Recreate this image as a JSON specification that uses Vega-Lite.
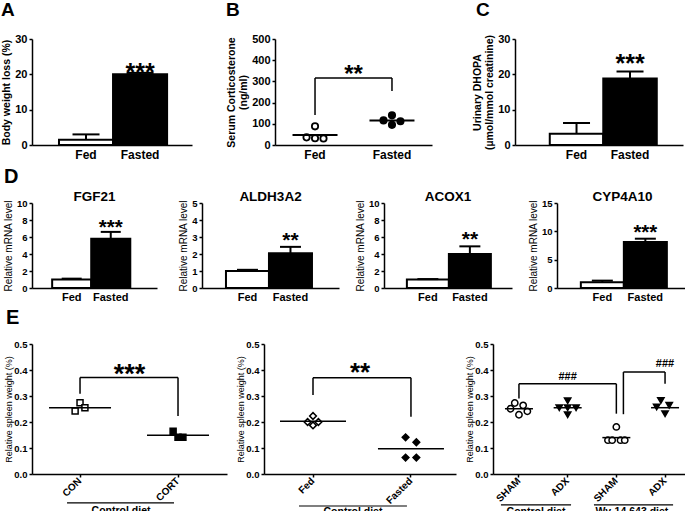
{
 "$schema": "https://vega.github.io/schema/vega-lite/v6.json",
 "background": "white",
 "padding": {"left": 1, "top": 0, "right": 0, "bottom": 0},
 "spacing": 6,
 "vconcat": [
  {
   "bounds": "flush", "spacing": 83,
   "hconcat": [
    {
     "width": 160, "height": 106,
     "title": {"text": "A", "fontSize": 19, "dx": -31, "offset": 13.5},
     "data": {"values": [{"g": "Fed", "m": 1.5, "u": 3.0}, {"g": "Fasted", "m": 20.0, "u": 20.4}]},
     "encoding": {"x": {"field": "g", "type": "nominal", "sort": ["Fed", "Fasted"], "scale": {"domain": ["Fed", "Fasted"], "paddingInner": 0, "paddingOuter": 0.48, "align": 0.52}, "axis": {"title": null, "ticks": false, "labelFontSize": 12, "labelPadding": 4}}},
     "layer": [
      {"mark": {"type": "bar", "stroke": "#000", "strokeWidth": 2, "width": {"band": 1}}, "encoding": {"y": {"field": "m", "type": "quantitative", "scale": {"domain": [0, 30], "nice": false}, "axis": {"values": [0, 10, 20, 30], "tickCount": 20, "format": "d", "labelOverlap": false, "title": "Body weight loss (%)", "titleFontSize": 10.5, "titleFontWeight": "bold", "labelFontSize": 11}}, "fill": {"field": "g", "type": "nominal", "scale": {"domain": ["Fed", "Fasted"], "range": ["#ffffff", "#000000"]}, "legend": null}}},
      {"mark": {"type": "rule", "strokeWidth": 2}, "encoding": {"y": {"field": "m", "type": "quantitative"}, "y2": {"field": "u"}}},
      {"mark": {"type": "tick", "thickness": 2, "size": 27}, "encoding": {"y": {"field": "u", "type": "quantitative"}}},
      {"data": {"values": [{}]}, "mark": {"type": "text", "text": "***", "fontSize": 25, "fontWeight": "bold", "baseline": "alphabetic"}, "encoding": {"x": {"datum": "Fasted"}, "y": {"datum": 18.0}}}
     ]
    },
    {
     "width": 157, "height": 106,
     "title": {"text": "B", "fontSize": 19, "dx": -49, "offset": 13.5},
     "layer": [
      {"data": {"values": [{"g": "Fed", "col": 1, "v": 36}, {"g": "Fed", "col": 2, "v": 88}, {"g": "Fed", "col": 2, "v": 32}, {"g": "Fed", "col": 3, "v": 31}, {"g": "Fasted", "col": 1, "v": 116}, {"g": "Fasted", "col": 2, "v": 140}, {"g": "Fasted", "col": 2, "v": 95}, {"g": "Fasted", "col": 3, "v": 112}]},
       "encoding": {
        "y": {"field": "v", "type": "quantitative", "scale": {"domain": [0, 500], "nice": false}, "axis": {"values": [0, 100, 200, 300, 400, 500], "tickCount": 20, "format": "d", "labelOverlap": false, "title": ["Serum Corticosterone", "(ng/ml)"], "titleFontSize": 10.5, "titleFontWeight": "bold", "titleLineHeight": 12, "labelFontSize": 11}},
        "fill": {"field": "g", "type": "nominal", "scale": {"domain": ["Fed", "Fasted"], "range": ["#ffffff", "#000000"]}, "legend": null}},
       "layer": [
        {"transform": [{"filter": "datum.col == 1"}], "mark": {"type": "point", "shape": "circle", "size": 40, "filled": true, "stroke": "#000", "strokeWidth": 1.8, "opacity": 1},
         "encoding": {"x": {"field": "g", "type": "nominal", "bandPosition": 0.39, "scale": {"domain": ["Fed", "Fasted"], "paddingInner": 0, "paddingOuter": 0.02}, "axis": {"title": null, "ticks": false, "labelFontSize": 12, "labelPadding": 4}}}},
        {"transform": [{"filter": "datum.col == 2"}], "mark": {"type": "point", "shape": "circle", "size": 40, "filled": true, "stroke": "#000", "strokeWidth": 1.8, "opacity": 1},
         "encoding": {"x": {"field": "g", "type": "nominal", "bandPosition": 0.5}}},
        {"transform": [{"filter": "datum.col == 3"}], "mark": {"type": "point", "shape": "circle", "size": 40, "filled": true, "stroke": "#000", "strokeWidth": 1.8, "opacity": 1},
         "encoding": {"x": {"field": "g", "type": "nominal", "bandPosition": 0.61}}}
       ]},
      {"data": {"values": [{"g": "Fed", "v": 47}, {"g": "Fasted", "v": 116}]}, "mark": {"type": "tick", "thickness": 2, "size": 45}, "encoding": {"x": {"field": "g", "type": "nominal"}, "y": {"field": "v", "type": "quantitative"}}},
      {"data": {"values": [{}]}, "mark": {"type": "rule", "strokeWidth": 1.5}, "encoding": {"x": {"datum": "Fed"}, "y": {"datum": 141}, "y2": {"datum": 316}}},
      {"data": {"values": [{}]}, "mark": {"type": "rule", "strokeWidth": 1.5}, "encoding": {"x": {"datum": "Fed"}, "x2": {"datum": "Fasted"}, "y": {"datum": 316}}},
      {"data": {"values": [{}]}, "mark": {"type": "rule", "strokeWidth": 1.5}, "encoding": {"x": {"datum": "Fasted"}, "y": {"datum": 316}, "y2": {"datum": 255}}},
      {"data": {"values": [{}]}, "mark": {"type": "text", "text": "**", "fontSize": 24, "fontWeight": "bold", "baseline": "alphabetic"}, "encoding": {"y": {"datum": 297}}}
     ]
    },
    {
     "width": 168, "height": 106,
     "title": {"text": "C", "fontSize": 19, "dx": -39, "offset": 13.5},
     "data": {"values": [{"g": "Fed", "m": 3.2, "u": 6.2}, {"g": "Fasted", "m": 18.8, "u": 20.8}]},
     "encoding": {"x": {"field": "g", "type": "nominal", "sort": ["Fed", "Fasted"], "scale": {"domain": ["Fed", "Fasted"], "paddingInner": 0, "paddingOuter": 0.57, "align": 0.57}, "axis": {"title": null, "ticks": false, "labelFontSize": 12, "labelPadding": 4}}},
     "layer": [
      {"mark": {"type": "bar", "stroke": "#000", "strokeWidth": 2, "width": {"band": 1}}, "encoding": {"y": {"field": "m", "type": "quantitative", "scale": {"domain": [0, 30], "nice": false}, "axis": {"values": [0, 10, 20, 30], "tickCount": 20, "format": "d", "labelOverlap": false, "title": ["Urinary DHOPA", "(µmol/mmol creatinine)"], "titleFontSize": 10.5, "titleFontWeight": "bold", "titleLineHeight": 12, "labelFontSize": 11}}, "fill": {"field": "g", "type": "nominal", "scale": {"domain": ["Fed", "Fasted"], "range": ["#ffffff", "#000000"]}, "legend": null}}},
      {"mark": {"type": "rule", "strokeWidth": 2}, "encoding": {"y": {"field": "m", "type": "quantitative"}, "y2": {"field": "u"}}},
      {"mark": {"type": "tick", "thickness": 2, "size": 27}, "encoding": {"y": {"field": "u", "type": "quantitative"}}},
      {"data": {"values": [{}]}, "mark": {"type": "text", "text": "***", "fontSize": 25, "fontWeight": "bold", "baseline": "alphabetic"}, "encoding": {"x": {"datum": "Fasted"}, "y": {"datum": 20.6}}}
     ]
    }
   ]
  },
  {
   "title": {"text": "D", "fontSize": 20, "dx": -28, "offset": 3},
   "bounds": "flush", "spacing": 45,
   "hconcat": [
    {
     "width": 125, "height": 85,
     "title": {"text": "FGF21", "fontSize": 13.5, "anchor": "middle", "offset": 0, "dy": 5},
     "data": {"values": [{"g": "Fed", "m": 1.0, "u": 1.1}, {"g": "Fasted", "m": 5.8, "u": 6.6}]},
     "encoding": {"x": {"field": "g", "type": "nominal", "sort": ["Fed", "Fasted"], "scale": {"domain": ["Fed", "Fasted"], "paddingInner": 0, "paddingOuter": 0.6, "align": 0.43}, "axis": {"title": null, "ticks": false, "labelFontSize": 11, "labelPadding": 3}}},
     "layer": [
      {"mark": {"type": "bar", "stroke": "#000", "strokeWidth": 2, "width": {"band": 1}}, "encoding": {"y": {"field": "m", "type": "quantitative", "scale": {"domain": [0, 10], "nice": false}, "axis": {"values": [0, 2, 4, 6, 8, 10], "tickCount": 20, "format": "d", "labelOverlap": false, "title": "Relative mRNA level", "titleFontSize": 10, "titleFontWeight": "normal", "labelFontSize": 9.5}}, "fill": {"field": "g", "type": "nominal", "scale": {"domain": ["Fed", "Fasted"], "range": ["#ffffff", "#000000"]}, "legend": null}}},
      {"mark": {"type": "rule", "strokeWidth": 2}, "encoding": {"y": {"field": "m", "type": "quantitative"}, "y2": {"field": "u"}}},
      {"mark": {"type": "tick", "thickness": 2, "size": 20}, "encoding": {"y": {"field": "u", "type": "quantitative"}}},
      {"data": {"values": [{}]}, "mark": {"type": "text", "text": "***", "fontSize": 20.5, "fontWeight": "bold", "baseline": "alphabetic"}, "encoding": {"x": {"datum": "Fasted"}, "y": {"datum": 6.41}}}
     ]
    },
    {
     "width": 137, "height": 85,
     "title": {"text": "ALDH3A2", "fontSize": 13.5, "anchor": "middle", "offset": 0, "dy": 5},
     "data": {"values": [{"g": "Fed", "m": 1.0, "u": 1.07}, {"g": "Fasted", "m": 2.05, "u": 2.42}]},
     "encoding": {"x": {"field": "g", "type": "nominal", "sort": ["Fed", "Fasted"], "scale": {"domain": ["Fed", "Fasted"], "paddingInner": 0, "paddingOuter": 0.593, "align": 0.47}, "axis": {"title": null, "ticks": false, "labelFontSize": 11, "labelPadding": 3}}},
     "layer": [
      {"mark": {"type": "bar", "stroke": "#000", "strokeWidth": 2, "width": {"band": 1}}, "encoding": {"y": {"field": "m", "type": "quantitative", "scale": {"domain": [0, 5], "nice": false}, "axis": {"values": [0, 1, 2, 3, 4, 5], "tickCount": 20, "format": "d", "labelOverlap": false, "title": "Relative mRNA level", "titleFontSize": 10, "titleFontWeight": "normal", "labelFontSize": 9.5}}, "fill": {"field": "g", "type": "nominal", "scale": {"domain": ["Fed", "Fasted"], "range": ["#ffffff", "#000000"]}, "legend": null}}},
      {"mark": {"type": "rule", "strokeWidth": 2}, "encoding": {"y": {"field": "m", "type": "quantitative"}, "y2": {"field": "u"}}},
      {"mark": {"type": "tick", "thickness": 2, "size": 21}, "encoding": {"y": {"field": "u", "type": "quantitative"}}},
      {"data": {"values": [{}]}, "mark": {"type": "text", "text": "**", "fontSize": 21, "fontWeight": "bold", "baseline": "alphabetic"}, "encoding": {"x": {"datum": "Fasted"}, "y": {"datum": 2.44}}}
     ]
    },
    {
     "width": 128, "height": 85,
     "title": {"text": "ACOX1", "fontSize": 13.5, "anchor": "middle", "offset": 0, "dy": 5},
     "data": {"values": [{"g": "Fed", "m": 1.0, "u": 1.05}, {"g": "Fasted", "m": 4.0, "u": 4.9}]},
     "encoding": {"x": {"field": "g", "type": "nominal", "sort": ["Fed", "Fasted"], "scale": {"domain": ["Fed", "Fasted"], "paddingInner": 0, "paddingOuter": 0.524, "align": 0.52}, "axis": {"title": null, "ticks": false, "labelFontSize": 11, "labelPadding": 3}}},
     "layer": [
      {"mark": {"type": "bar", "stroke": "#000", "strokeWidth": 2, "width": {"band": 1}}, "encoding": {"y": {"field": "m", "type": "quantitative", "scale": {"domain": [0, 10], "nice": false}, "axis": {"values": [0, 2, 4, 6, 8, 10], "tickCount": 20, "format": "d", "labelOverlap": false, "title": "Relative mRNA level", "titleFontSize": 10, "titleFontWeight": "normal", "labelFontSize": 9.5}}, "fill": {"field": "g", "type": "nominal", "scale": {"domain": ["Fed", "Fasted"], "range": ["#ffffff", "#000000"]}, "legend": null}}},
      {"mark": {"type": "rule", "strokeWidth": 2}, "encoding": {"y": {"field": "m", "type": "quantitative"}, "y2": {"field": "u"}}},
      {"mark": {"type": "tick", "thickness": 2, "size": 21}, "encoding": {"y": {"field": "u", "type": "quantitative"}}},
      {"data": {"values": [{}]}, "mark": {"type": "text", "text": "**", "fontSize": 21, "fontWeight": "bold", "baseline": "alphabetic"}, "encoding": {"x": {"datum": "Fasted"}, "y": {"datum": 4.96}}}
     ]
    },
    {
     "width": 131, "height": 85,
     "title": {"text": "CYP4A10", "fontSize": 13.5, "anchor": "middle", "offset": 0, "dy": 5},
     "data": {"values": [{"g": "Fed", "m": 1.0, "u": 1.3}, {"g": "Fasted", "m": 8.1, "u": 8.7}]},
     "encoding": {"x": {"field": "g", "type": "nominal", "sort": ["Fed", "Fasted"], "scale": {"domain": ["Fed", "Fasted"], "paddingInner": 0, "paddingOuter": 0.523, "align": 0.53}, "axis": {"title": null, "ticks": false, "labelFontSize": 11, "labelPadding": 3}}},
     "layer": [
      {"mark": {"type": "bar", "stroke": "#000", "strokeWidth": 2, "width": {"band": 1}}, "encoding": {"y": {"field": "m", "type": "quantitative", "scale": {"domain": [0, 15], "nice": false}, "axis": {"values": [0, 5, 10, 15], "tickCount": 20, "format": "d", "labelOverlap": false, "title": "Relative mRNA level", "titleFontSize": 10, "titleFontWeight": "normal", "labelFontSize": 9.5}}, "fill": {"field": "g", "type": "nominal", "scale": {"domain": ["Fed", "Fasted"], "range": ["#ffffff", "#000000"]}, "legend": null}}},
      {"mark": {"type": "rule", "strokeWidth": 2}, "encoding": {"y": {"field": "m", "type": "quantitative"}, "y2": {"field": "u"}}},
      {"mark": {"type": "tick", "thickness": 2, "size": 21}, "encoding": {"y": {"field": "u", "type": "quantitative"}}},
      {"data": {"values": [{}]}, "mark": {"type": "text", "text": "***", "fontSize": 20.5, "fontWeight": "bold", "baseline": "alphabetic"}, "encoding": {"x": {"datum": "Fasted"}, "y": {"datum": 8.7}}}
     ]
    }
   ]
  },
  {
   "title": {"text": "E", "fontSize": 20, "dx": -26, "offset": 11},
   "bounds": "flush", "spacing": 37,
   "hconcat": [
    {
     "width": 195, "height": 130,
     "layer": [
      {"data": {"values": [{"g": "CON", "col": 1, "v": 0.242}, {"g": "CON", "col": 2, "v": 0.274}, {"g": "CON", "col": 3, "v": 0.255}, {"g": "CORT", "col": 1, "v": 0.164}, {"g": "CORT", "col": 2, "v": 0.141}, {"g": "CORT", "col": 3, "v": 0.141}]},
       "encoding": {
        "y": {"field": "v", "type": "quantitative", "scale": {"domain": [0, 0.5], "nice": false}, "axis": {"values": [0, 0.1, 0.2, 0.3, 0.4, 0.5], "tickCount": 20, "labelOverlap": false, "format": ".1f", "title": "Relative spleen weight (%)", "titleFontSize": 9, "titleFontWeight": "normal", "titlePadding": 0, "labelFontSize": 9.5}},
        "fill": {"field": "g", "type": "nominal", "scale": {"domain": ["CON", "CORT"], "range": ["#ffffff", "#000000"]}, "legend": null}},
       "layer": [
        {"transform": [{"filter": "datum.col == 1"}], "mark": {"type": "point", "shape": "square", "size": 36, "filled": true, "stroke": "#000", "strokeWidth": 1.5, "opacity": 1},
         "encoding": {"x": {"field": "g", "type": "nominal", "bandPosition": 0.4, "scale": {"domain": ["CON", "CORT"], "paddingInner": 0.5, "paddingOuter": 0.245, "align": 0.49}, "axis": {"title": null, "labelAngle": -45, "labelAlign": "right", "labelBaseline": "middle", "labelFontSize": 10, "ticks": true, "labelPadding": 2}}}},
        {"transform": [{"filter": "datum.col == 2"}], "mark": {"type": "point", "shape": "square", "size": 36, "filled": true, "stroke": "#000", "strokeWidth": 1.5, "opacity": 1},
         "encoding": {"x": {"field": "g", "type": "nominal", "bandPosition": 0.5}}},
        {"transform": [{"filter": "datum.col == 3"}], "mark": {"type": "point", "shape": "square", "size": 36, "filled": true, "stroke": "#000", "strokeWidth": 1.5, "opacity": 1},
         "encoding": {"x": {"field": "g", "type": "nominal", "bandPosition": 0.6}}}
       ]},
      {"data": {"values": [{"g": "CON", "v": 0.255}, {"g": "CORT", "v": 0.149}]}, "mark": {"type": "tick", "thickness": 1.5, "size": 62}, "encoding": {"x": {"field": "g", "type": "nominal"}, "y": {"field": "v", "type": "quantitative"}}},
      {"data": {"values": [{}]}, "mark": {"type": "rule", "strokeWidth": 1.5}, "encoding": {"x": {"datum": "CON"}, "y": {"datum": 0.309}, "y2": {"datum": 0.371}}},
      {"data": {"values": [{}]}, "mark": {"type": "rule", "strokeWidth": 1.5}, "encoding": {"x": {"datum": "CON"}, "x2": {"datum": "CORT"}, "y": {"datum": 0.371}}},
      {"data": {"values": [{}]}, "mark": {"type": "rule", "strokeWidth": 1.5}, "encoding": {"x": {"datum": "CORT"}, "y": {"datum": 0.371}, "y2": {"datum": 0.223}}},
      {"data": {"values": [{}]}, "mark": {"type": "text", "text": "***", "fontSize": 27, "fontWeight": "bold", "baseline": "alphabetic"}, "encoding": {"y": {"datum": 0.349}}},
      {"data": {"values": [{}]}, "mark": {"type": "rule", "strokeWidth": 1.2}, "encoding": {"x": {"datum": "CON", "bandPosition": 0.235}, "x2": {"datum": "CORT", "bandPosition": 0.418}, "y": {"datum": -0.111}}},
      {"data": {"values": [{}]}, "mark": {"type": "text", "text": "Control diet", "fontSize": 10.5, "fontWeight": "bold", "baseline": "alphabetic", "align": "center"}, "encoding": {"x": {"datum": "CON", "bandPosition": 1.337}, "y": {"datum": -0.153}}}
     ]
    },
    {
     "width": 192, "height": 130,
     "layer": [
      {"data": {"values": [{"g": "Fed", "col": 1, "v": 0.2}, {"g": "Fed", "col": 2, "v": 0.223}, {"g": "Fed", "col": 2, "v": 0.187}, {"g": "Fed", "col": 3, "v": 0.2}, {"g": "Fasted", "col": 1, "v": 0.141}, {"g": "Fasted", "col": 3, "v": 0.122}, {"g": "Fasted", "col": 1, "v": 0.063}, {"g": "Fasted", "col": 3, "v": 0.063}]},
       "encoding": {
        "y": {"field": "v", "type": "quantitative", "scale": {"domain": [0, 0.5], "nice": false}, "axis": {"values": [0, 0.1, 0.2, 0.3, 0.4, 0.5], "tickCount": 20, "labelOverlap": false, "format": ".1f", "title": "Relative spleen weight (%)", "titleFontSize": 9, "titleFontWeight": "normal", "titlePadding": 0, "labelFontSize": 9.5}},
        "fill": {"field": "g", "type": "nominal", "scale": {"domain": ["Fed", "Fasted"], "range": ["#ffffff", "#000000"]}, "legend": null}},
       "layer": [
        {"transform": [{"filter": "datum.col == 1"}], "mark": {"type": "point", "shape": "diamond", "size": 45, "filled": true, "stroke": "#000", "strokeWidth": 1.5, "opacity": 1},
         "encoding": {"x": {"field": "g", "type": "nominal", "bandPosition": 0.39, "scale": {"domain": ["Fed", "Fasted"], "paddingInner": 0.5, "paddingOuter": 0.23, "align": 0.544}, "axis": {"title": null, "labelAngle": -45, "labelAlign": "right", "labelBaseline": "middle", "labelFontSize": 10, "ticks": true, "labelPadding": 2}}}},
        {"transform": [{"filter": "datum.col == 2"}], "mark": {"type": "point", "shape": "diamond", "size": 45, "filled": true, "stroke": "#000", "strokeWidth": 1.5, "opacity": 1},
         "encoding": {"x": {"field": "g", "type": "nominal", "bandPosition": 0.5}}},
        {"transform": [{"filter": "datum.col == 3"}], "mark": {"type": "point", "shape": "diamond", "size": 45, "filled": true, "stroke": "#000", "strokeWidth": 1.5, "opacity": 1},
         "encoding": {"x": {"field": "g", "type": "nominal", "bandPosition": 0.61}}}
       ]},
      {"data": {"values": [{"g": "Fed", "v": 0.203}, {"g": "Fasted", "v": 0.0975}]}, "mark": {"type": "tick", "thickness": 1.5, "size": 66}, "encoding": {"x": {"field": "g", "type": "nominal"}, "y": {"field": "v", "type": "quantitative"}}},
      {"data": {"values": [{}]}, "mark": {"type": "rule", "strokeWidth": 1.5}, "encoding": {"x": {"datum": "Fed"}, "y": {"datum": 0.304}, "y2": {"datum": 0.37}}},
      {"data": {"values": [{}]}, "mark": {"type": "rule", "strokeWidth": 1.5}, "encoding": {"x": {"datum": "Fed"}, "x2": {"datum": "Fasted"}, "y": {"datum": 0.37}}},
      {"data": {"values": [{}]}, "mark": {"type": "rule", "strokeWidth": 1.5}, "encoding": {"x": {"datum": "Fasted"}, "y": {"datum": 0.37}, "y2": {"datum": 0.22}}},
      {"data": {"values": [{}]}, "mark": {"type": "text", "text": "**", "fontSize": 26, "fontWeight": "bold", "baseline": "alphabetic"}, "encoding": {"y": {"datum": 0.357}}},
      {"data": {"values": [{}]}, "mark": {"type": "rule", "strokeWidth": 1.2}, "encoding": {"x": {"datum": "Fed", "bandPosition": 0.214}, "x2": {"datum": "Fasted", "bandPosition": 0.418}, "y": {"datum": -0.123}}},
      {"data": {"values": [{}]}, "mark": {"type": "text", "text": "Control diet", "fontSize": 10.5, "fontWeight": "bold", "baseline": "alphabetic", "align": "center"}, "encoding": {"x": {"datum": "Fed", "bandPosition": 1.316}, "y": {"datum": -0.158}}}
     ]
    },
    {
     "width": 198, "height": 130,
     "layer": [
      {"data": {"values": [
        {"g": "SHAM-C", "col": 1, "v": 0.251}, {"g": "SHAM-C", "col": 2, "v": 0.273}, {"g": "SHAM-C", "col": 3, "v": 0.228}, {"g": "SHAM-C", "col": 4, "v": 0.264}, {"g": "SHAM-C", "col": 5, "v": 0.241},
        {"g": "ADX-C", "col": 1, "v": 0.255}, {"g": "ADX-C", "col": 3, "v": 0.255}, {"g": "ADX-C", "col": 5, "v": 0.255}, {"g": "ADX-C", "col": 3, "v": 0.282}, {"g": "ADX-C", "col": 3, "v": 0.228},
        {"g": "SHAM-W", "col": 1, "v": 0.13}, {"g": "SHAM-W", "col": 2, "v": 0.13}, {"g": "SHAM-W", "col": 3, "v": 0.181}, {"g": "SHAM-W", "col": 4, "v": 0.13}, {"g": "SHAM-W", "col": 5, "v": 0.13},
        {"g": "ADX-W", "col": 1, "v": 0.258}, {"g": "ADX-W", "col": 2, "v": 0.283}, {"g": "ADX-W", "col": 3, "v": 0.232}, {"g": "ADX-W", "col": 4, "v": 0.264}]},
       "encoding": {
        "y": {"field": "v", "type": "quantitative", "scale": {"domain": [0, 0.5], "nice": false}, "axis": {"values": [0, 0.1, 0.2, 0.3, 0.4, 0.5], "tickCount": 20, "labelOverlap": false, "format": ".1f", "title": "Relative spleen weight (%)", "titleFontSize": 9, "titleFontWeight": "normal", "titlePadding": 0, "labelFontSize": 9.5}},
        "fill": {"field": "g", "type": "nominal", "scale": {"domain": ["SHAM-C", "ADX-C", "SHAM-W", "ADX-W"], "range": ["#ffffff", "#ffffff", "#000000", "#000000"]}, "legend": null},
        "shape": {"field": "g", "type": "nominal", "scale": {"domain": ["SHAM-C", "ADX-C", "SHAM-W", "ADX-W"], "range": ["circle", "triangle-down", "circle", "triangle-down"]}, "legend": null}},
       "layer": [
        {"transform": [{"filter": "datum.col == 1"}], "mark": {"type": "point", "size": 40, "filled": true, "stroke": "#000", "strokeWidth": 1.5, "opacity": 1},
         "encoding": {"x": {"field": "g", "type": "nominal", "bandPosition": 0.155, "scale": {"domain": ["SHAM-C", "ADX-C", "SHAM-W", "ADX-W"], "paddingInner": 0.5, "paddingOuter": 0.283, "align": 0.5}, "axis": {"title": null, "labelAngle": -45, "labelAlign": "right", "labelBaseline": "middle", "labelFontSize": 10, "ticks": true, "labelPadding": 2, "labelExpr": "split(datum.label, '-')[0]"}}}},
        {"transform": [{"filter": "datum.col == 2"}], "mark": {"type": "point", "size": 40, "filled": true, "stroke": "#000", "strokeWidth": 1.5, "opacity": 1},
         "encoding": {"x": {"field": "g", "type": "nominal", "bandPosition": 0.328}}},
        {"transform": [{"filter": "datum.col == 3"}], "mark": {"type": "point", "size": 40, "filled": true, "stroke": "#000", "strokeWidth": 1.5, "opacity": 1},
         "encoding": {"x": {"field": "g", "type": "nominal", "bandPosition": 0.5}}},
        {"transform": [{"filter": "datum.col == 4"}], "mark": {"type": "point", "size": 40, "filled": true, "stroke": "#000", "strokeWidth": 1.5, "opacity": 1},
         "encoding": {"x": {"field": "g", "type": "nominal", "bandPosition": 0.672}}},
        {"transform": [{"filter": "datum.col == 5"}], "mark": {"type": "point", "size": 40, "filled": true, "stroke": "#000", "strokeWidth": 1.5, "opacity": 1},
         "encoding": {"x": {"field": "g", "type": "nominal", "bandPosition": 0.845}}}
       ]},
      {"data": {"values": [{"g": "SHAM-C", "v": 0.251}, {"g": "ADX-C", "v": 0.255}, {"g": "SHAM-W", "v": 0.14}, {"g": "ADX-W", "v": 0.255}]}, "mark": {"type": "tick", "thickness": 1.5, "size": 28}, "encoding": {"x": {"field": "g", "type": "nominal"}, "y": {"field": "v", "type": "quantitative"}}},
      {"data": {"values": [{}]}, "mark": {"type": "rule", "strokeWidth": 1.5}, "encoding": {"x": {"datum": "SHAM-C"}, "y": {"datum": 0.29}, "y2": {"datum": 0.347}}},
      {"data": {"values": [{}]}, "mark": {"type": "rule", "strokeWidth": 1.5}, "encoding": {"x": {"datum": "SHAM-C"}, "x2": {"datum": "SHAM-W"}, "y": {"datum": 0.347}}},
      {"data": {"values": [{}]}, "mark": {"type": "rule", "strokeWidth": 1.5}, "encoding": {"x": {"datum": "SHAM-W"}, "y": {"datum": 0.347}, "y2": {"datum": 0.232}}},
      {"data": {"values": [{}]}, "mark": {"type": "rule", "strokeWidth": 1.5}, "encoding": {"x": {"datum": "SHAM-W", "bandPosition": 0.79}, "y": {"datum": 0.23}, "y2": {"datum": 0.392}}},
      {"data": {"values": [{}]}, "mark": {"type": "rule", "strokeWidth": 1.5}, "encoding": {"x": {"datum": "SHAM-W", "bandPosition": 0.79}, "x2": {"datum": "ADX-W"}, "y": {"datum": 0.392}}},
      {"data": {"values": [{}]}, "mark": {"type": "rule", "strokeWidth": 1.5}, "encoding": {"x": {"datum": "ADX-W"}, "y": {"datum": 0.392}, "y2": {"datum": 0.347}}},
      {"data": {"values": [{}]}, "mark": {"type": "text", "text": "###", "fontSize": 11, "fontWeight": "bold", "baseline": "alphabetic"}, "encoding": {"x": {"datum": "ADX-C"}, "y": {"datum": 0.361}}},
      {"data": {"values": [{}]}, "mark": {"type": "text", "text": "###", "fontSize": 11, "fontWeight": "bold", "baseline": "alphabetic"}, "encoding": {"x": {"datum": "ADX-W"}, "y": {"datum": 0.41}}},
      {"data": {"values": [{}]}, "mark": {"type": "rule", "strokeWidth": 1.2}, "encoding": {"x": {"datum": "SHAM-C", "bandPosition": -0.24}, "x2": {"datum": "ADX-C", "bandPosition": 0.64}, "y": {"datum": -0.119}}},
      {"data": {"values": [{}]}, "mark": {"type": "rule", "strokeWidth": 1.2}, "encoding": {"x": {"datum": "SHAM-W", "bandPosition": -0.42}, "x2": {"datum": "ADX-W", "bandPosition": 0.83}, "y": {"datum": -0.119}}},
      {"data": {"values": [{}]}, "mark": {"type": "text", "text": "Control diet", "fontSize": 10.5, "fontWeight": "bold", "baseline": "alphabetic", "align": "center"}, "encoding": {"x": {"datum": "SHAM-C", "bandPosition": 1.2}, "y": {"datum": -0.158}}},
      {"data": {"values": [{}]}, "mark": {"type": "text", "text": "Wy-14,643 diet", "fontSize": 10.5, "fontWeight": "bold", "baseline": "alphabetic", "align": "center"}, "encoding": {"x": {"datum": "SHAM-W", "bandPosition": 1.14}, "y": {"datum": -0.158}}}
     ]
    }
   ]
  }
 ],
 "config": {
  "font": "Liberation Sans",
  "view": {"stroke": null},
  "axis": {"domainColor": "#000", "domainWidth": 1.5, "tickColor": "#000", "tickWidth": 1.5, "tickSize": 3, "labelColor": "#000", "titleColor": "#000", "grid": false, "labelFontWeight": "bold", "labelPadding": 2, "titlePadding": 3, "labelOverlap": false},
  "axisX": {"labelAngle": 0},
  "title": {"fontWeight": "bold", "color": "#000", "anchor": "start", "frame": "group", "baseline": "alphabetic"},
  "text": {"color": "#000"},
  "tick": {"color": "#000", "opacity": 1},
  "rule": {"color": "#000"}
 }
}
